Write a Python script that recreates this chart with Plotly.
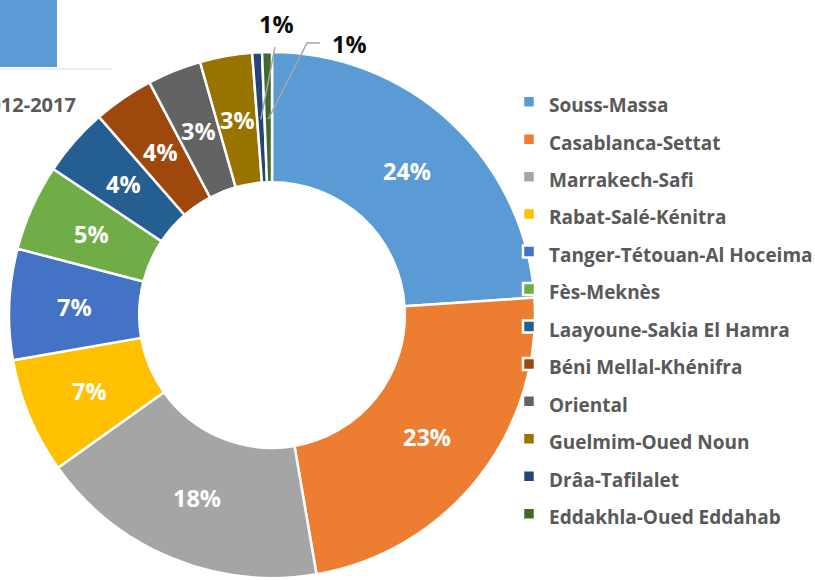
import math
import plotly.graph_objects as go

# ---------------- data ----------------
regions = [
    "Souss-Massa", "Casablanca-Settat", "Marrakech-Safi", "Rabat-Salé-Kénitra",
    "Tanger-Tétouan-Al Hoceima", "Fès-Meknès", "Laayoune-Sakia El Hamra",
    "Béni Mellal-Khénifra", "Oriental", "Guelmim-Oued Noun", "Drâa-Tafilalet",
    "Eddakhla-Oued Eddahab",
]
shares = [23.9, 23.3, 17.8, 7.1, 6.8, 5.3, 4.2, 3.7, 3.3, 3.2, 0.6, 0.6]
colors = [
    "#5B9BD5", "#ED7D31", "#A5A5A5", "#FFC000", "#4472C4", "#70AD47",
    "#255E91", "#9E480E", "#636363", "#997300", "#264478", "#43682B",
]
period_label = "2012-2017"
outside_idx = [10, 11]  # slices labelled outside with leader lines

# ---------------- geometry ----------------
W, H = 815, 580
CX, CY, R = 272, 315, 263          # donut centre / radius in pixels
HOLE = 0.505
R_MID = R * (1 + HOLE) / 2         # middle of the ring
FONT = "Open Sans"

total = sum(shares)
pct_text = [f"{v / total * 100:.0f}%" for v in shares]

legend_labels = [f'<span style="font-size:19px">{r}</span>' for r in regions]

fig = go.Figure(go.Pie(
    labels=legend_labels,
    values=shares,
    sort=False,
    direction="clockwise",
    rotation=0,
    hole=HOLE,
    marker=dict(colors=colors, line=dict(color="white", width=2.5)),
    textinfo="none",
    domain=dict(x=[(CX - R) / W, (CX + R) / W], y=[(H - CY - R) / H, (H - CY + R) / H]),
    hoverinfo="label+percent",
))


def px2paper(x, y):
    return x / W, (H - y) / H


def slice_mid_point(i, r):
    before = sum(shares[:i])
    f = (before + shares[i] / 2) / total
    th = 2 * math.pi * f
    return CX + r * math.sin(th), CY - r * math.cos(th)


shapes = []
annotations = []

# percentage labels in the middle of the ring
for i in range(len(shares)):
    if i in outside_idx:
        continue
    mx, my = slice_mid_point(i, R_MID)
    ax_, ay_ = px2paper(mx, my)
    annotations.append(dict(text=f"<b>{pct_text[i]}</b>", xref="paper", yref="paper",
                            x=ax_, y=ay_, xanchor="center", yanchor="middle",
                            showarrow=False,
                            font=dict(family=FONT, size=23.5, color="white")))

# top-left decorations (title box fragment)
x0, y0 = px2paper(0, 0)
x1, y1 = px2paper(57, 67)
shapes.append(dict(type="rect", xref="paper", yref="paper", x0=x0, y0=y1, x1=x1, y1=y0,
                   fillcolor="#5B9BD5", line=dict(width=0), layer="below"))
lx0, ly = px2paper(0, 69)
lx1, _ = px2paper(112, 69)
shapes.append(dict(type="line", xref="paper", yref="paper", x0=lx0, x1=lx1, y0=ly, y1=ly,
                   line=dict(color="#D9D9D9", width=1.2)))
tx, ty = px2paper(78, 105)
annotations.append(dict(text=f"<b>{period_label}</b>", xref="paper", yref="paper",
                        x=tx, y=ty, xanchor="right", yanchor="middle", showarrow=False,
                        font=dict(family=FONT, size=20, color="#595959")))

# leader lines + labels for the tiny slices
label_pos = {10: (276, 24), 11: (349, 44)}
bend = {10: None, 11: [(307, 43), (320, 43)]}
line_end = {10: (275, 47), 11: None}
for i in outside_idx:
    sx, sy = slice_mid_point(i, R_MID - 2)
    pts = [(sx, sy)]
    if bend[i]:
        pts += bend[i]
    else:
        pts.append(line_end[i])
    path = ""
    for k, (px_, py_) in enumerate(pts):
        ppx, ppy = px2paper(px_, py_)
        path += ("M" if k == 0 else " L") + f"{ppx:.5f},{ppy:.5f}"
    shapes.append(dict(type="path", xref="paper", yref="paper", path=path,
                       line=dict(color="#A6A6A6", width=1.5)))
    lxp, lyp = px2paper(*label_pos[i])
    annotations.append(dict(text=f"<b>{pct_text[i]}</b>", xref="paper", yref="paper",
                            x=lxp, y=lyp, xanchor="center", yanchor="middle",
                            showarrow=False,
                            font=dict(family=FONT, size=23.5, color="#0D0D0D")))

lgx, lgy = px2paper(509, 78)
fig.update_layout(
    width=W, height=H,
    margin=dict(l=0, r=0, t=0, b=0, autoexpand=False),
    paper_bgcolor="white",
    plot_bgcolor="white",
    shapes=shapes,
    annotations=annotations,
    showlegend=True,
    legend=dict(
        x=lgx, y=lgy, xanchor="left", yanchor="top",
        font=dict(family=FONT, size=26.5, color="#595959", weight="bold"),
        bgcolor="rgba(0,0,0,0)", borderwidth=0,
    ),
    font=dict(family=FONT),
)

fig.write_html("out.html", config={"displayModeBar": False},
               post_script="document.body.style.margin='0';")
